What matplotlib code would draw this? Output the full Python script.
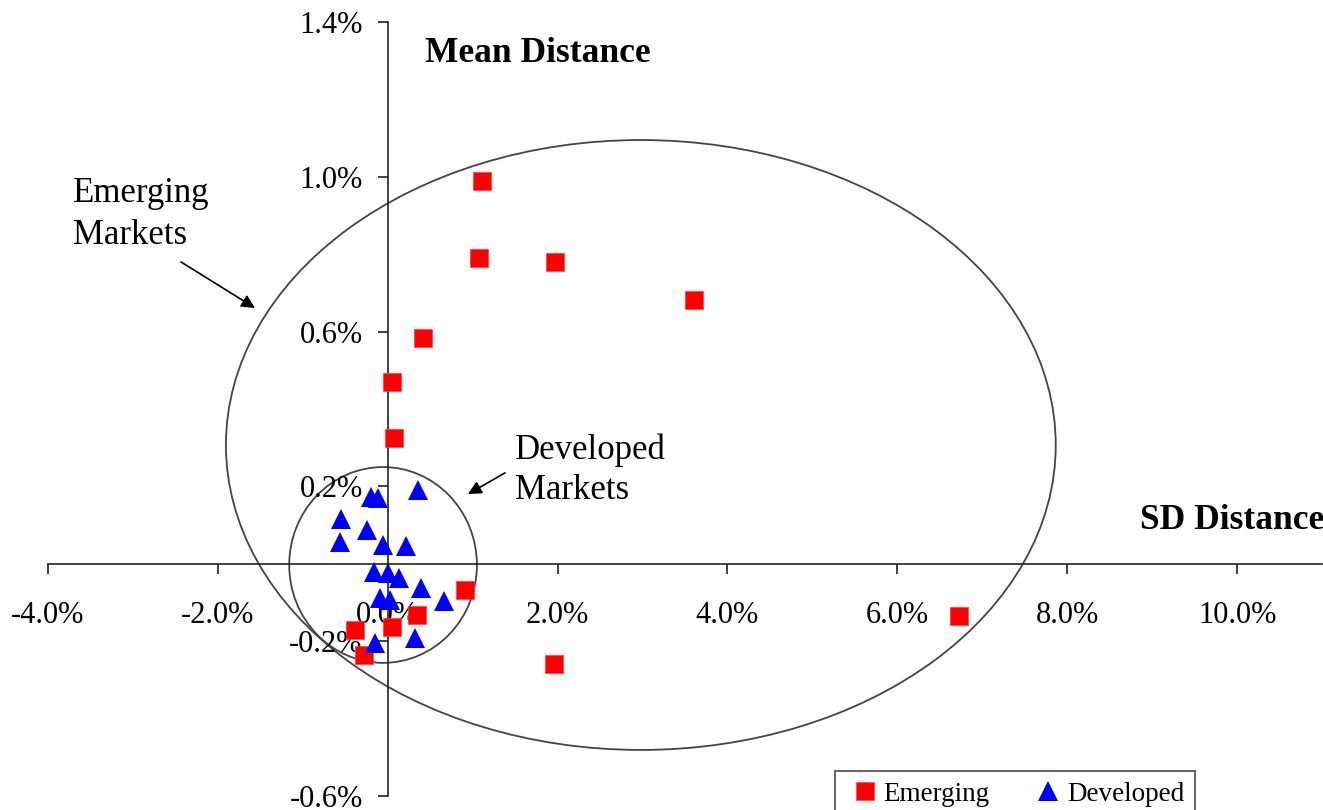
import numpy as np
import matplotlib
matplotlib.use("Agg")
import matplotlib.pyplot as plt
from matplotlib.patches import Ellipse
from matplotlib.ticker import FuncFormatter, FixedLocator

plt.rcParams['font.family'] = ['Liberation Serif', 'DejaVu Serif']

# SD distance (x) and mean distance (y), in percent
emerging_x = [1.11, 1.07, 1.97, 3.61, 0.42, 0.05, 0.07, 0.91, 6.73, 1.96, 0.35, 0.05, -0.38, -0.28]
emerging_y = [0.989, 0.790, 0.780, 0.681, 0.584, 0.470, 0.325, -0.068, -0.135, -0.259, -0.132, -0.163, -0.171, -0.236]

developed_x = [-0.197, -0.114, 0.357, -0.550, -0.244, -0.562, -0.055, 0.215, -0.161, 0.004,
               0.133, 0.392, -0.091, 0.027, 0.663, 0.321, -0.150]
developed_y = [0.173, 0.170, 0.191, 0.116, 0.087, 0.056, 0.049, 0.046, -0.021, -0.024,
               -0.037, -0.063, -0.088, -0.094, -0.096, -0.192, -0.205]

x_ticks = [-4, -2, 0, 2, 4, 6, 8, 10]
y_ticks = [-0.6, -0.2, 0.2, 0.6, 1.0, 1.4]

W, H = 1323, 810
fig = plt.figure(figsize=(W / 100, H / 100), dpi=100)
ax = fig.add_axes([48 / W, 14 / H, (1322 - 48) / W, 774 / H])
ax.set_xlim(-4, 11)
ax.set_ylim(-0.6, 1.4)

for s in ['top', 'right']:
    ax.spines[s].set_visible(False)
ax.spines['left'].set_position(('data', 0))
ax.spines['bottom'].set_position(('data', 0))
for s in ['left', 'bottom']:
    ax.spines[s].set_color('#222222')
    ax.spines[s].set_linewidth(1.2)

ax.xaxis.set_major_locator(FixedLocator(x_ticks))
ax.yaxis.set_major_locator(FixedLocator(y_ticks))
ax.xaxis.set_major_formatter(FuncFormatter(lambda v, p: f"{v:.1f}%"))
ax.yaxis.set_major_formatter(FuncFormatter(lambda v, p: f"{v:.1f}%"))
ax.tick_params(axis='both', direction='out', length=7, width=1.2, color='#222222',
               labelsize=22)
ax.tick_params(axis='x', pad=20)
ax.tick_params(axis='y', pad=11)

# ellipses
ax.add_patch(Ellipse((2.98, 0.307), 9.77, 1.576, fill=False, edgecolor='#444444', lw=1.3, zorder=1))
ax.add_patch(Ellipse((-0.055, -0.003), 2.21, 0.506, fill=False, edgecolor='#444444', lw=1.3, zorder=1))

ax.plot(emerging_x, emerging_y, 's', color='#ff0000', markersize=13, markeredgewidth=0.5,
        markeredgecolor='#ff4040', label='Emerging', zorder=3, clip_on=False)
ax.plot(developed_x, developed_y, '^', color='#0000ff', markersize=14, markeredgewidth=0,
        label='Developed', zorder=3, clip_on=False)

ax.text(0.439, 1.318, 'Mean Distance', fontsize=25.5, fontweight='bold', va='center', ha='left')
ax.text(8.857, 0.112, 'SD Distance', fontsize=25.5, fontweight='bold', va='center', ha='left',
        clip_on=False)

ax.text(-3.705, 1.0, 'Emerging\nMarkets', fontsize=25, va='top', ha='left', linespacing=1.35)
ax.annotate('', xy=(-1.563, 0.661), xytext=(-2.434, 0.780),
            arrowprops=dict(arrowstyle='-|>', color='black', lw=1.2, mutation_scale=20,
                            shrinkA=0, shrinkB=0))

ax.text(1.50, 0.337, 'Developed\nMarkets', fontsize=25, va='top', ha='left', linespacing=1.3)
ax.annotate('', xy=(0.945, 0.180), xytext=(1.381, 0.235),
            arrowprops=dict(arrowstyle='-|>', color='black', lw=1.2, mutation_scale=20,
                            shrinkA=0, shrinkB=0))

leg = fig.legend(loc='upper left', bbox_to_anchor=(835 / W, (H - 771) / H), ncol=2,
                 fontsize=19.5, frameon=True, fancybox=False, edgecolor='#444444',
                 handlelength=1.4, handletextpad=0.0, columnspacing=1.45, borderaxespad=0,
                 borderpad=0.4)
leg.get_frame().set_linewidth(1.5)

fig.savefig('out.png', dpi=100)
